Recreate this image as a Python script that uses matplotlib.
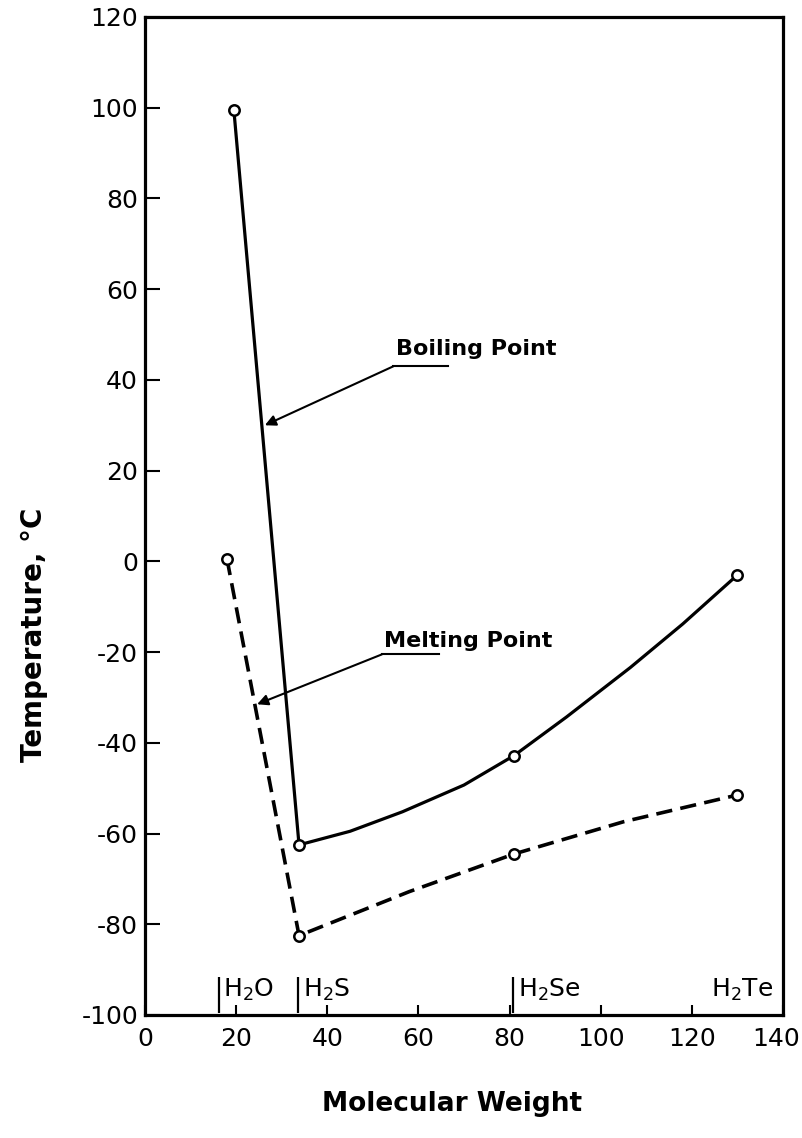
import matplotlib
matplotlib.use("Agg")
import matplotlib.pyplot as plt
import matplotlib.transforms as mtransforms

plt.rcParams["axes.unicode_minus"] = False

# measured points (molecular weight, temperature in C)
bp_mw = [19.5, 33.8, 81.0, 130.0]
bp_temp = [99.5, -62.5, -42.8, -3.0]
mp_mw = [18.0, 33.8, 81.0, 130.0]
mp_temp = [0.5, -82.5, -64.5, -51.5]

# hand-drawn curves, sampled along the drawn lines
bp_curve_mw = [19.5, 33.8, 45.0, 56.5, 70.0, 81.0, 92.5, 106.5, 118.0, 130.0]
bp_curve_temp = [99.5, -62.5, -59.5, -55.2, -49.3, -42.8, -34.3, -23.4, -13.8, -3.0]
mp_curve_mw = [18.0, 33.8, 58.0, 81.0, 105.0, 130.0]
mp_curve_temp = [0.5, -82.5, -72.8, -64.5, -57.4, -51.5]

compounds = ["H$_2$O", "H$_2$S", "H$_2$Se", "H$_2$Te"]
compound_mw = [16.2, 33.6, 80.8, 137.8]
compound_bar = [True, True, True, False]

xticks = [0, 20, 40, 60, 80, 100, 120, 140]
yticks = [-100, -80, -60, -40, -20, 0, 20, 40, 60, 80, 100, 120]

fig = plt.figure(figsize=(8.03, 11.38), dpi=100)
ax = fig.add_axes([145 / 803, 1 - 1015 / 1138, 638 / 803, 998 / 1138])

ax.plot(bp_curve_mw, bp_curve_temp, color="black", linewidth=2.3, solid_capstyle="round")
ax.plot(mp_curve_mw, mp_curve_temp, color="black", linewidth=2.6, dashes=(4.5, 2.3))
ax.plot(bp_mw, bp_temp, "o", ms=7.5, mfc="white", mec="black", mew=1.8)
ax.plot(mp_mw, mp_temp, "o", ms=7.5, mfc="white", mec="black", mew=1.8)

# annotations with underlined labels
lbl = dict(fontsize=16, fontweight="bold", ha="left", va="baseline")
ax.text(55.0, 45.5, "Boiling Point", **lbl)
ax.plot([54.5, 66.5], [43.0, 43.0], color="black", linewidth=1.5)
ax.annotate("", xy=(26.3, 30.0), xytext=(54.5, 43.0),
            arrowprops=dict(arrowstyle="-|>", color="black", lw=1.5,
                            mutation_scale=16, shrinkA=0, shrinkB=0))
ax.text(52.5, -18.8, "Melting Point", **lbl)
ax.plot([52.0, 64.5], [-20.5, -20.5], color="black", linewidth=1.5)
ax.annotate("", xy=(24.6, -31.5), xytext=(52.0, -20.5),
            arrowprops=dict(arrowstyle="-|>", color="black", lw=1.5,
                            mutation_scale=16, shrinkA=0, shrinkB=0))

# compound markers along the bottom
for name, mw, bar in zip(compounds, compound_mw, compound_bar):
    if bar:
        ax.vlines(mw, -99.6, -91.6, color="black", linewidth=1.6)
        ax.text(mw + 1.0, -96.0, name, fontsize=18, ha="left", va="baseline")
    else:
        ax.text(mw, -96.0, name, fontsize=18, ha="right", va="baseline")

ax.set_xlim(0, 140)
ax.set_ylim(-100, 120)
ax.set_xticks(xticks)
ax.set_yticks(yticks)
ax.tick_params(axis="both", direction="in", labelsize=18, width=1.5, length=11, pad=5)
ax.tick_params(axis="x", length=7, pad=9)
for s in ax.spines.values():
    s.set_linewidth(2.3)

# last x label sits a little inside the right edge
shift = mtransforms.ScaledTranslation(-7 / 100, 0, fig.dpi_scale_trans)
last = ax.get_xticklabels()[-1]
last.set_transform(last.get_transform() + shift)

ax.set_xlabel("Molecular Weight", fontsize=19, fontweight="bold")
ax.xaxis.set_label_coords(0.481, -0.076)
ax.set_ylabel("Temperature, °C", fontsize=20, fontweight="bold")
ax.yaxis.set_label_coords(-0.152, 0.381)

fig.savefig("out.png", dpi=100)
